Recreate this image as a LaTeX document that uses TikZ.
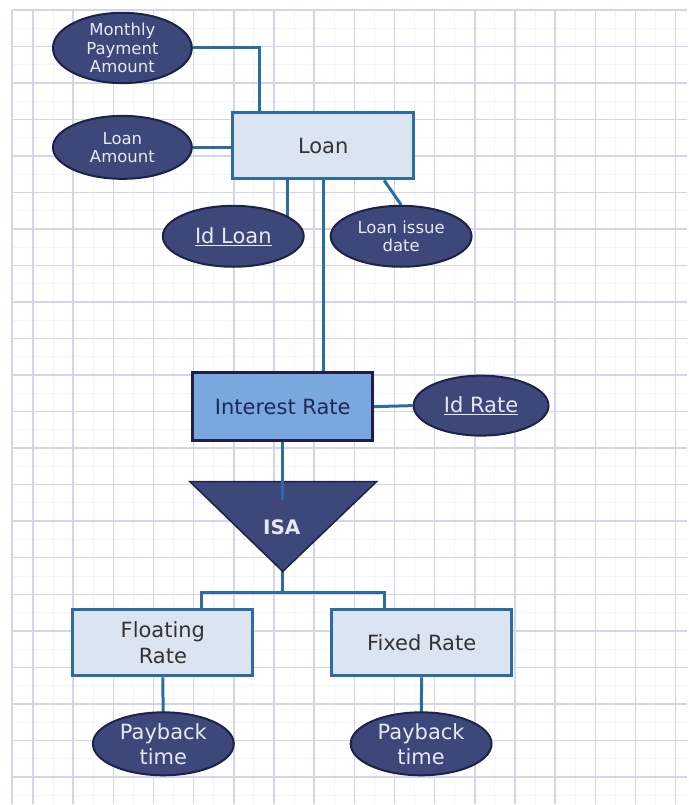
\documentclass[tikz,border=0pt]{standalone}
\usepackage{fontspec}
\setmainfont{DejaVu Sans}
\usetikzlibrary{shapes.geometric}

\definecolor{gridmajor}{RGB}{212,212,236}
\definecolor{gridminor}{RGB}{244,244,251}
\definecolor{attrfill}{RGB}{61,71,121}
\definecolor{attrline}{RGB}{28,34,72}
\definecolor{attrtext}{RGB}{230,232,242}
\definecolor{entfill}{RGB}{219,229,241}
\definecolor{entline}{RGB}{46,106,164}
\definecolor{keyfill}{RGB}{120,168,222}
\definecolor{keyline}{RGB}{32,30,80}
\definecolor{linkcol}{RGB}{44,108,164}

\pgfdeclarelayer{grid}
\pgfdeclarelayer{edges}
\pgfsetlayers{grid,edges,main}

\begin{document}
\begin{tikzpicture}[x=1pt,y=-1pt,
  attr/.style={ellipse, draw=attrline, line width=2pt, fill=attrfill,
    text=attrtext, inner sep=0pt, align=center},
  entity/.style={rectangle, draw=entline, line width=3pt, fill=entfill,
    text=black!80, inner sep=0pt, align=center,
    minimum width=180pt, minimum height=66pt,
    font=\fontsize{21}{26}\selectfont},
  connector/.style={draw=linkcol, line width=3pt},
  smalltxt/.style={font=\fontsize{16.5}{18.5}\selectfont},
  bigtxt/.style={font=\fontsize{21}{25}\selectfont}]

% squared paper background
\begin{pgfonlayer}{grid}
  \fill[white] (0,0) rectangle (688,805);
  \foreach \k in {0,...,16} {
    \draw[gridminor, line width=1pt] ({13+40.2*\k},10) -- ({13+40.2*\k},805);
  }
  \foreach \k in {0,...,21} {
    \draw[gridminor, line width=1pt] (12,{28.3+36.55*\k}) -- (688,{28.3+36.55*\k});
  }
  \foreach \k in {0,...,16} {
    \draw[gridmajor, line width=1.5pt] ({33+40.2*\k},10) -- ({33+40.2*\k},805);
  }
  \draw[gridmajor, line width=1.5pt] (12,10) -- (12,805);
  \foreach \k in {0,...,21} {
    \draw[gridmajor, line width=1.5pt] (12,{10+36.55*\k}) -- (688,{10+36.55*\k});
  }
\end{pgfonlayer}

% entities
\node[entity, minimum width=181pt, minimum height=66pt] (loan) at (323.5,146) {Loan};
\node[entity, draw=keyline, fill=keyfill, text={rgb,255:red,30;green,42;blue,85},
      minimum width=180pt, minimum height=68pt] (ir) at (283,407) {Interest Rate};
\node[entity] (float) at (163,643.5) {Floating\\Rate};
\node[entity] (fixed) at (422,643.5) {Fixed Rate};

% attributes
\node[attr, smalltxt, minimum width=139pt, minimum height=64pt] (mpa) at (122.5,48)
  {Monthly\\Payment\\Amount};
\node[attr, smalltxt, minimum width=139pt, minimum height=63pt] (la) at (122.5,147.5)
  {Loan\\Amount};
\node[attr, bigtxt, minimum width=141pt, minimum height=61pt] (idloan) at (233.5,236.5)
  {\underline{Id Loan}};
\node[attr, smalltxt, minimum width=141pt, minimum height=61pt] (lid) at (401.5,236.5)
  {Loan issue\\date};
\node[attr, bigtxt, minimum width=135pt, minimum height=60pt] (idr) at (481.5,406)
  {\underline{Id Rate}};
\node[attr, bigtxt, minimum width=141pt, minimum height=63pt] (pb1) at (163.5,744.5)
  {Payback\\time};
\node[attr, bigtxt, minimum width=141pt, minimum height=63pt] (pb2) at (421.5,744.5)
  {Payback\\time};

% ISA triangle
\draw[fill=attrfill, draw=attrline, line width=1.5pt] (190,482) -- (377,482) -- (283,572) -- cycle;
\node[text=attrtext, font=\fontsize{20}{24}\selectfont\bfseries] (isa) at (282,528) {ISA};
\coordinate (isa-in) at (283,500);
\coordinate (isa-apex) at (283,572);
\coordinate (fork) at (283,593);

% relationship lines
\begin{pgfonlayer}{edges}
  \draw[connector] (mpa.east) -| ([xshift=28pt]loan.north west);
  \draw[connector] (la.east) -- (la.east -| loan.west);
  \draw[connector] ([xshift=56pt]loan.south west) -- ([xshift=56pt]loan.south west |- idloan.center);
  \draw[connector] ([xshift=153pt]loan.south west) -- (lid.north);
  \draw[connector] (loan.south) -- (loan.south |- ir.north);
  \draw[connector] (ir.east) -- (idr.west);
  \draw[connector] (isa-apex) -- (fork);
  \draw[connector] ([xshift=130pt]float.north west) |- (fork) -| ([xshift=54pt]fixed.north west);
  \draw[connector] (float.south) -- (pb1.center);
  \draw[connector] (fixed.south) -- (pb2.center);
\end{pgfonlayer}
\draw[connector] (ir.south) -- (isa-in);

\end{tikzpicture}
\end{document}
